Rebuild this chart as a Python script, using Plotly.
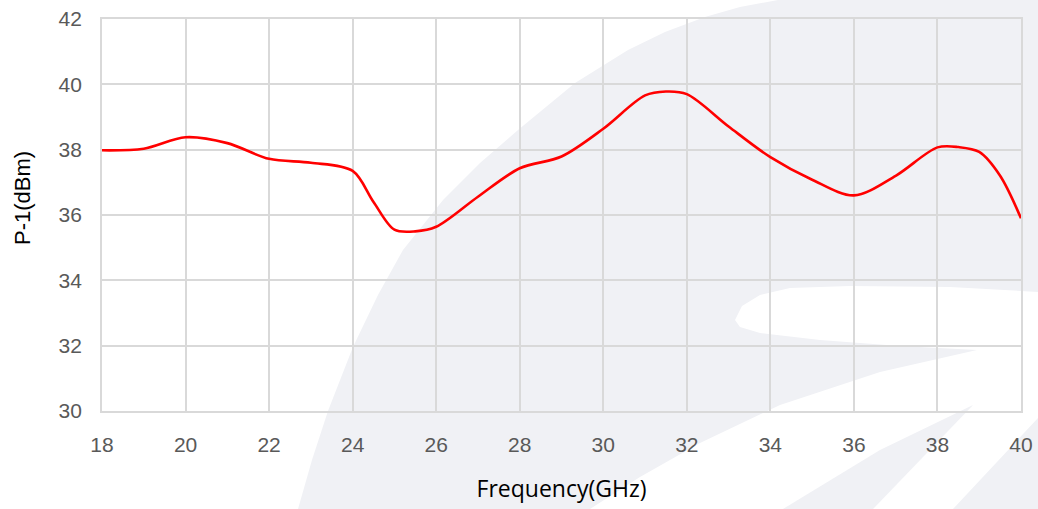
import plotly.graph_objects as go

# ---- data ----
freq_ghz = [18, 19, 20, 21, 22, 23, 24, 24.5, 25, 25.5, 26, 27, 28, 29, 30, 31, 31.5,
            32, 33, 34, 35, 36, 37, 38, 38.5, 39, 39.5, 40]
p1_dbm = [37.98, 38.03, 38.38, 38.2, 37.72, 37.6, 37.35, 36.4, 35.55, 35.5, 35.64, 36.56,
          37.43, 37.79, 38.64, 39.66, 39.78, 39.7, 38.71, 37.77, 37.08, 36.6, 37.2, 38.07,
          38.08, 37.93, 37.2, 35.9]
x_ticks = [18, 20, 22, 24, 26, 28, 30, 32, 34, 36, 38, 40]
y_ticks = [30, 32, 34, 36, 38, 40, 42]

# ---- background watermark (decoration, pixel coords converted to paper) ----
W, H = 1038, 509
L, R, T, B = 102, 17, 19, 98
pw, ph = W - L - R, H - T - B


def P(px, py):
    return (px - L) / pw, (H - B - py) / ph


def path(pts):
    s = ""
    for i, (px, py) in enumerate(pts):
        x, y = P(px, py)
        s += ("M" if i == 0 else "L") + f"{x:.4f},{y:.4f} "
    return s + "Z"


gray_main = [(298, 509), (312, 460), (328, 411), (353, 347), (378, 295), (403, 250),
             (443, 200), (480, 163), (518, 130), (575, 83), (628, 50), (665, 32),
             (705, 17), (740, 7), (778, 0), (1038, 0), (1038, 509)]
white_blob = [(735, 320), (742, 306), (760, 295), (790, 288), (850, 286), (950, 287),
              (1038, 292), (1038, 418), (953, 509), (590, 509), (640, 477), (700, 443),
              (780, 405), (880, 372), (977, 350), (900, 346), (820, 340), (760, 333),
              (740, 327)]
gray_stripe = [(973, 405), (873, 509), (783, 509), (880, 450)]

shapes = []
for pts, col in [(gray_main, "#f0f1f5"), (white_blob, "#ffffff"), (gray_stripe, "#f0f1f5")]:
    shapes.append(dict(type="path", xref="paper", yref="paper", path=path(pts),
                       fillcolor=col, line=dict(width=0), layer="below"))

fig = go.Figure()
fig.add_trace(go.Scatter(
    x=freq_ghz, y=p1_dbm, mode="lines",
    line=dict(color="#ff0000", width=2.6, shape="spline", smoothing=0.9),
    showlegend=False, hoverinfo="skip"))

axis_common = dict(showgrid=True, gridcolor="#d9d9d9", gridwidth=1.8,
                   zeroline=False, showline=True, linecolor="#d9d9d9", linewidth=1.8,
                   mirror=True, ticks="", automargin=False,
                   tickfont=dict(family="Liberation Sans, Arial", size=21, color="#595959"))

fig.update_xaxes(range=[18, 40], tickvals=x_ticks, ticktext=[str(v) for v in x_ticks],
                 ticklabelstandoff=14,
                 title=dict(text="Frequency(GHz)", standoff=26,
                            font=dict(family="Open Sans", size=23, color="#000000")),
                 **axis_common)
fig.update_yaxes(range=[30, 42], tickvals=y_ticks, ticktext=[str(v) for v in y_ticks],
                 ticklabelstandoff=14, **axis_common)

fig.add_annotation(text="P-1(dBm)", textangle=-90, xref="paper", yref="paper",
                   x=P(22, 0)[0], y=P(0, 198)[1], xanchor="center", yanchor="middle",
                   showarrow=False,
                   font=dict(family="Liberation Sans, Arial", size=22, color="#000000"))

fig.update_layout(width=W, height=H, margin=dict(l=L, r=R, t=T, b=B, pad=0),
                  paper_bgcolor="#ffffff", plot_bgcolor="rgba(0,0,0,0)",
                  shapes=shapes)

fig.write_html("out.html", config={"displayModeBar": False},
               post_script="document.body.style.margin='0';document.body.style.overflow='hidden';")
